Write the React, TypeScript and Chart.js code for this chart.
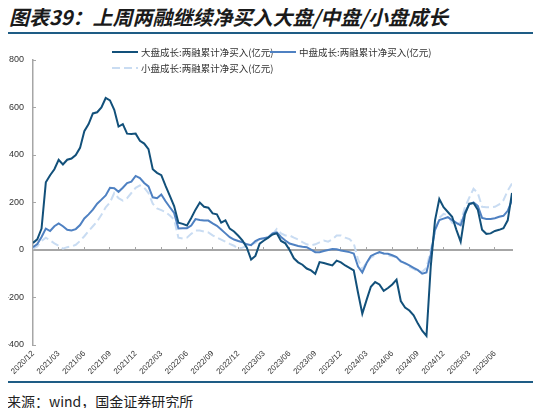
import { useEffect, useRef } from 'react'
import { Chart, registerables } from 'chart.js'
import type { Plugin } from 'chart.js'

Chart.register(...registerables)

// quarterly tick labels, one every 3 months starting 2020/12
const tickLabels = [
  '2020/12', '2021/03', '2021/06', '2021/09', '2021/12', '2022/03', '2022/06',
  '2022/09', '2022/12', '2023/03', '2023/06', '2023/09', '2023/12', '2024/03',
  '2024/06', '2024/09', '2024/12', '2025/03', '2025/06',
]

const seriesNames = [
  '大盘成长:两融累计净买入(亿元)',
  '中盘成长:两融累计净买入(亿元)',
  '小盘成长:两融累计净买入(亿元)',
]

// half-monthly readings (亿元), from 2020/12 on
const largeGrowth = [
  30, 45, 90, 285, 315, 340, 380, 360, 380, 385,
  400, 430, 500, 530, 575, 580, 600, 640, 630, 590,
  520, 530, 490, 488, 490, 460, 448, 425, 340, 325,
  315, 270, 228, 185, 115, 110, 103, 135, 170, 200,
  182, 178, 154, 150, 115, 125, 90, 78, 60, 40,
  10, -40, -25, 27, 40, 52, 65, 70, 38, 28,
  0, -35, -52, -62, -78, -86, -100, -51, -55, -60,
  -65, -45, -52, -65, -75, -86, -180, -268, -210, -155,
  -135, -145, -172, -160, -145, -125, -215, -242, -255, -275,
  -310, -340, -362, -70, 125, 215, 180, 160, 140, 85,
  35, 150, 195, 198, 170, 85, 68, 70, 80, 85,
  92, 125, 240,
]

const midGrowth = [
  12, 25, 55, 90, 80, 100, 112, 100, 85, 82,
  88, 105, 133, 150, 170, 195, 212, 230, 262, 260,
  245, 262, 282, 288, 312, 303, 282, 268, 222, 218,
  234, 205, 180, 156, 91, 92, 92, 103, 130, 126,
  124, 124, 112, 102, 86, 70, 54, 44, 38, 33,
  24, 20, 38, 46, 50, 54, 70, 74, 55, 40,
  27, 22, 17, 14, 12, 2, -9, -9, -4, 0,
  4, 3, -2, -5, -9, -15, -70, -95, -55, -25,
  -16, -9, -15, -16, -22, -30, -48, -55, -65, -75,
  -85, -100, -95, -20, 85, 126, 132, 138, 126, 114,
  104, 158, 192, 200, 186, 135, 131, 131, 134, 140,
  144, 165, 210,
]

const smallGrowth = [
  6, 15, 38, 52, 40, 28, 18, 6, 12, 15,
  22, 38, 58, 80, 100, 120, 148, 180, 200, 240,
  218, 208, 218, 240, 262, 272, 262, 240, 195, 175,
  168, 160, 145, 128, 52, 48, 52, 68, 82, 82,
  78, 74, 62, 52, 44, 35, 26, 18, 6, 10,
  18, 24, 30, 47, 47, 50, 66, 88, 70, 61,
  61, 52, 44, 33, 24, 20, 24, 32, 40, 35,
  45, 61, 61, 52, 46, 28, -40, -80, -52, -32,
  -23, -10, -15, -23, -26, -30, -45, -58, -70, -80,
  -90, -92, -75, 0, 80, 135, 152, 146, 115, 105,
  118, 180, 220, 258, 240, 182, 180, 180, 182, 192,
  210, 250, 280,
]

const toPoints = (vals: number[]) => vals.map((y, i) => ({ x: i * 0.5, y }))

const AXIS_GREY = '#a6a6a6'
const RULE_BLUE = '#1e5c85'

// legend sits inside the plot, two rows, left aligned
const fixedLegend: Plugin<'line'> = {
  id: 'fixedLegend',
  afterDraw(chart) {
    const ctx = chart.ctx
    const slots = [
      { x: 112, y: 12 },
      { x: 270, y: 12 },
      { x: 112, y: 28 },
    ]
    chart.data.datasets.forEach((ds: any, i) => {
      const s = slots[i]
      if (!s) return
      ctx.save()
      ctx.strokeStyle = ds.borderColor
      ctx.lineWidth = ds.borderWidth
      ctx.setLineDash(ds.borderDash || [])
      ctx.beginPath()
      ctx.moveTo(s.x, s.y)
      ctx.lineTo(s.x + 26, s.y)
      ctx.stroke()
      ctx.setLineDash([])
      ctx.fillStyle = '#333'
      ctx.font = '9.5px "Noto Sans CJK SC"'
      ctx.textBaseline = 'middle'
      ctx.fillText(ds.label, s.x + 29, s.y)
      ctx.restore()
    })
  },
}

export default function App() {
  const canvasRef = useRef<HTMLCanvasElement>(null)

  useEffect(() => {
    if (!canvasRef.current) return
    const chart = new Chart(canvasRef.current, {
      type: 'line',
      data: {
        datasets: [
          { label: seriesNames[0], data: toPoints(largeGrowth), borderColor: '#12507a', borderWidth: 2, pointRadius: 0 },
          { label: seriesNames[1], data: toPoints(midGrowth), borderColor: '#4f81c2', borderWidth: 2, pointRadius: 0 },
          { label: seriesNames[2], data: toPoints(smallGrowth), borderColor: '#c9dcf2', borderWidth: 2, borderDash: [8, 4], pointRadius: 0 },
        ],
      },
      options: {
        responsive: false,
        animation: false,
        layout: { padding: { top: 20, right: 29, left: 0, bottom: 0 } },
        plugins: { legend: { display: false }, tooltip: { enabled: false } },
        scales: {
          x: {
            type: 'linear',
            min: 0,
            max: 56,
            ticks: {
              stepSize: 3,
              includeBounds: false,
              autoSkip: false,
              minRotation: 45,
              maxRotation: 45,
              padding: 4,
              color: '#333',
              font: { family: 'Liberation Sans', size: 8 },
              callback: (v) => tickLabels[Math.round(Number(v) / 3)] ?? '',
            },
            grid: { display: false, drawTicks: false },
            border: { display: false },
            afterFit: (s) => { s.height = 30 },
          },
          x2: {
            type: 'linear',
            axis: 'x',
            position: { y: 0 },
            min: 0,
            max: 56,
            ticks: { display: false, stepSize: 3, includeBounds: false },
            grid: { drawOnChartArea: false, drawTicks: true, tickLength: -4, color: AXIS_GREY },
            border: { color: AXIS_GREY, width: 2 },
          },
          y: {
            min: -400,
            max: 800,
            ticks: { stepSize: 200, padding: 12, color: '#333', font: { family: 'Liberation Sans', size: 9 } },
            grid: { drawOnChartArea: false, drawTicks: true, tickLength: -3, color: AXIS_GREY },
            border: { color: AXIS_GREY, width: 1.5 },
            afterFit: (s) => { s.width = 33 },
          },
        },
      },
      plugins: [fixedLegend],
    })
    return () => chart.destroy()
  }, [])

  return (
    <div style={{ position: 'relative', width: 541, height: 416, margin: -8, background: '#fff', fontFamily: '"Noto Sans CJK SC", sans-serif' }}>
      <div style={{ position: 'absolute', left: 9, top: 2, fontSize: 20, fontWeight: 'bold', fontStyle: 'italic', color: '#1a1a1a', whiteSpace: 'nowrap' }}>
        图表39：上周两融继续净买入大盘/中盘/小盘成长
      </div>
      <div style={{ position: 'absolute', left: 5, right: 5, top: 32, height: 2, background: RULE_BLUE }} />
      <canvas ref={canvasRef} width={541} height={335} style={{ position: 'absolute', left: 0, top: 40 }} />
      <div style={{ position: 'absolute', left: 5, right: 5, top: 381, height: 2, background: RULE_BLUE }} />
      <div style={{ position: 'absolute', left: 7, top: 391, fontSize: 14, color: '#222', whiteSpace: 'nowrap' }}>
        来源：wind，国金证券研究所
      </div>
    </div>
  )
}
